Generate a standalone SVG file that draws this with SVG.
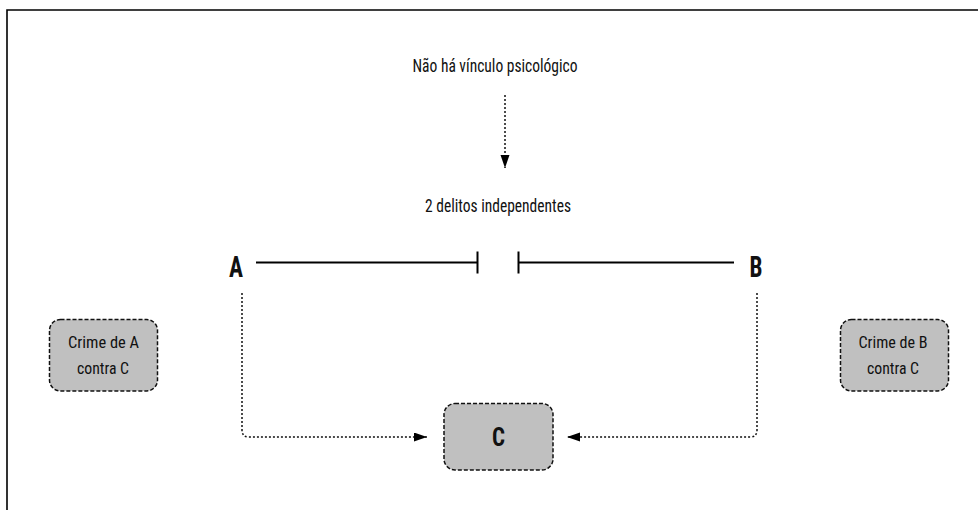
<svg xmlns="http://www.w3.org/2000/svg" width="978" height="510" viewBox="0 0 978 510">
<style>
text{font-family:"Liberation Sans Narrow","Roboto Condensed","Liberation Sans",sans-serif;fill:#111}
.lbl{font-size:18.5px}
.big{font-size:30px;font-weight:bold}
.box{fill:#c0c0c0;stroke:#111;stroke-width:1.5;stroke-dasharray:4 2}
.box text{font-size:19px}
.dot{fill:none;stroke:#111;stroke-width:1.5;stroke-dasharray:2 2}
.solid{fill:none;stroke:#000;stroke-width:2}
</style>
<defs>
<marker id="arr" markerUnits="userSpaceOnUse" markerWidth="14" markerHeight="10" refX="13" refY="4.5" orient="auto">
<path d="M0,0 L13,4.5 L0,9 z" fill="#000"/>
</marker>
</defs>
<rect width="978" height="510" fill="#fff"/>
<path d="M7,510 V10 H978" fill="none" stroke="#000" stroke-width="1.6"/>
<g id="top-label"><text class="lbl" x="495" y="72" text-anchor="middle" textLength="165" lengthAdjust="spacingAndGlyphs">Não há vínculo psicológico</text></g>
<g id="mid-label"><text class="lbl" x="498" y="212" text-anchor="middle" textLength="146" lengthAdjust="spacingAndGlyphs">2 delitos independentes</text></g>
<g id="node-A"><text class="big" x="236" y="277" text-anchor="middle" textLength="14" lengthAdjust="spacingAndGlyphs">A</text></g>
<g id="node-B"><text class="big" x="756" y="277" text-anchor="middle" textLength="13" lengthAdjust="spacingAndGlyphs">B</text></g>
<g id="node-C">
<rect class="box" x="444" y="403.5" width="109" height="66.5" rx="11"/>
<text x="498.5" y="446" text-anchor="middle" style="font-size:25px;font-weight:bold" textLength="13" lengthAdjust="spacingAndGlyphs">C</text>
</g>
<g id="crime-A">
<rect class="box" x="49.5" y="319.5" width="108" height="71.5" rx="11"/>
<text x="103.5" y="348" text-anchor="middle" textLength="71" lengthAdjust="spacingAndGlyphs">Crime de A</text>
<text x="103" y="374" text-anchor="middle" textLength="52" lengthAdjust="spacingAndGlyphs">contra C</text>
</g>
<g id="crime-B">
<rect class="box" x="840.5" y="319.5" width="108" height="71.5" rx="11"/>
<text x="893" y="348" text-anchor="middle" textLength="69" lengthAdjust="spacingAndGlyphs">Crime de B</text>
<text x="893" y="374" text-anchor="middle" textLength="52" lengthAdjust="spacingAndGlyphs">contra C</text>
</g>
<g id="connectors">
<path class="dot" d="M505,95 V168" marker-end="url(#arr)"/>
<path class="solid" d="M256,262.5 H477.5 M477.5,251.5 V273.5"/>
<path class="solid" d="M518.5,251.5 V273.5 M518.5,262.5 H734"/>
<path class="dot" d="M242,293 V430 Q242,437 249,437 H427" marker-end="url(#arr)"/>
<path class="dot" d="M757,293 V430 Q757,437 750,437 H567" marker-end="url(#arr)"/>
</g>
</svg>
